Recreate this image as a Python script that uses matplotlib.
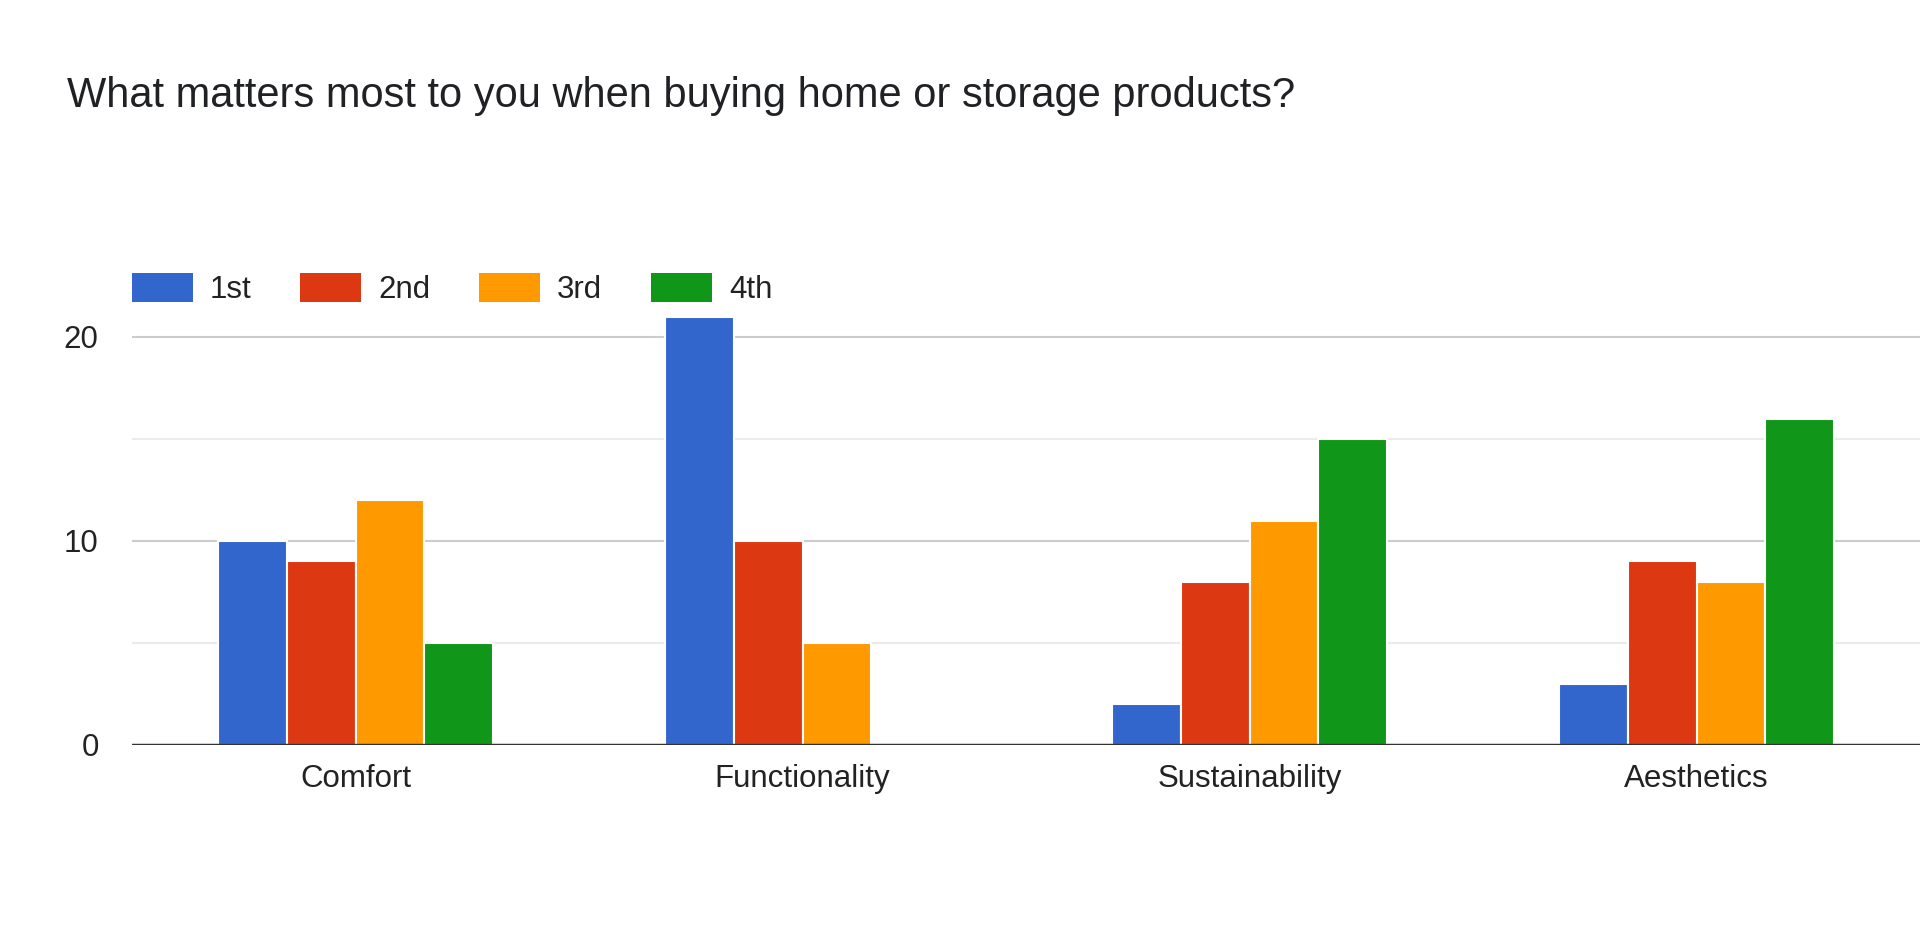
import matplotlib.pyplot as plt
import numpy as np

# Survey results
categories = ["Comfort", "Functionality", "Sustainability", "Aesthetics"]
rank_labels = ["1st", "2nd", "3rd", "4th"]
first = [10, 21, 2, 3]
second = [9, 10, 8, 9]
third = [12, 5, 11, 8]
fourth = [5, 0, 15, 16]
yticks = [0, 10, 20]

colors = ["#3366cc", "#dc3912", "#ff9900", "#109618"]
series = [first, second, third, fourth]

plt.rcParams["font.family"] = ["Liberation Sans", "DejaVu Sans"]

fig = plt.figure(figsize=(19.2, 9.39), dpi=100)
W, H = 1920, 939
# axes placement in pixels
left, right = 132, 1920
y0_px, ytop_val = 745, 22
px_per_unit = (745 - 337) / 20
top_px = y0_px - ytop_val * px_per_unit
ax = fig.add_axes([left / W, 1 - y0_px / H, (right - left) / W, (y0_px - top_px) / H])

x = np.arange(len(categories))
bw = 0.154
for i, (vals, c, lab) in enumerate(zip(series, colors, rank_labels)):
    ax.bar(x + (i - 1.5) * bw, vals, width=bw, color=c, label=lab,
           edgecolor="white", linewidth=1.5, zorder=3)

ax.set_xlim(-0.5, 3.5)
ax.set_ylim(0, ytop_val)

# gridlines: major at 10s, minor at 5s
for v in [5, 15]:
    ax.axhline(v, color="#ebebeb", linewidth=1.5, zorder=1)
for v in [10, 20]:
    ax.axhline(v, color="#cccccc", linewidth=1.5, zorder=1)
ax.axhline(0, color="#333333", linewidth=2.5, zorder=4)

for s in ax.spines.values():
    s.set_visible(False)
ax.set_yticks(yticks)
ax.set_xticks(x)
ax.set_xticklabels(categories)
ax.tick_params(axis="both", length=0, labelsize=22.5, colors="#222222")
ax.tick_params(axis="x", pad=14)
ax.tick_params(axis="y", pad=24)

fig.text(67 / W, 1 - 96 / H, "What matters most to you when buying home or storage products?",
         fontsize=30, color="#202124", va="center", ha="left")

leg = ax.legend(loc="center left", bbox_to_anchor=(132 / W, 1 - 289 / H),
                bbox_transform=fig.transFigure, ncol=4, frameon=False,
                fontsize=22.5, handlelength=1.95, handleheight=1.05,
                handletextpad=0.55, columnspacing=1.55, borderaxespad=0, borderpad=0)
for h in leg.legend_handles:
    h.set_edgecolor("none")
for t in leg.get_texts():
    t.set_color("#222222")

fig.savefig("out.png", dpi=100, facecolor="white")
